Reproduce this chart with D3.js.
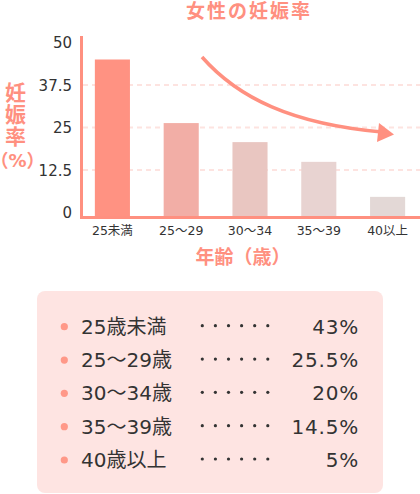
<!DOCTYPE html>
<html>
<head>
<meta charset="utf-8">
<script src="https://cdn.jsdelivr.net/npm/d3@7"></script>
<style>
  html, body { margin: 0; padding: 0; background: #fff; }
  svg { display: block; }
  text { font-family: "DejaVu Sans", "Noto Sans CJK JP", sans-serif; }
  .halt { font-feature-settings: "halt" 1; }
</style>
</head>
<body>
<div id="chart"></div>
<script>
// data
const ageGroups = ["25未満", "25〜29", "30〜34", "35〜39", "40以上"];
const barRates = [45, 26.3, 20.7, 14.9, 4.6];
const yTicks = [0, 12.5, 25, 37.5, 50];
const gridTicks = [12.5, 25, 37.5];
const listLabels = ["25歳未満", "25〜29歳", "30〜34歳", "35〜39歳", "40歳以上"];
const listValues = ["43%", "25.5%", "20%", "14.5%", "5%"];
const barColors = ["#ff9282", "#f2aea6", "#e9c6c1", "#e8d3d1", "#e3d8d6"];

const W = 420, H = 494;
const salmon = "#ff9080";
const ink = "#333";

const svg = d3.select("#chart").append("svg")
  .attr("width", W)
  .attr("height", H);

const x = d3.scaleBand()
  .domain(ageGroups)
  .range([78, 422])
  .paddingInner(0.49)
  .paddingOuter(0.245);

const y = d3.scaleLinear()
  .domain([0, 50])
  .range([212.5, 42.5]);

const baseY = 217.5;

// title
svg.append("text")
  .attr("x", 249)
  .attr("y", 11)
  .attr("text-anchor", "middle")
  .attr("dominant-baseline", "central")
  .attr("font-size", 19)
  .attr("font-weight", "bold")
  .attr("letter-spacing", 2)
  .attr("fill", salmon)
  .text("女性の妊娠率");

// grid
svg.append("g")
  .selectAll("line")
  .data(gridTicks)
  .join("line")
  .attr("x1", 83)
  .attr("x2", W)
  .attr("y1", (d) => y(d))
  .attr("y2", (d) => y(d))
  .attr("stroke", "#fde3e0")
  .attr("stroke-width", 2)
  .attr("stroke-dasharray", "5,4");

// bars
svg.append("g")
  .selectAll("rect")
  .data(ageGroups)
  .join("rect")
  .attr("x", (d) => x(d))
  .attr("width", x.bandwidth())
  .attr("y", (d, i) => y(barRates[i]))
  .attr("height", (d, i) => baseY - y(barRates[i]))
  .attr("fill", (d, i) => barColors[i]);

// y axis
const yAxis = d3.axisLeft(y)
  .tickValues(yTicks)
  .tickSize(0)
  .tickPadding(0)
  .tickFormat((d) => d);

const ya = svg.append("g")
  .attr("transform", "translate(72,0)")
  .call(yAxis);
ya.select(".domain").remove();
ya.selectAll("text")
  .attr("font-size", 15)
  .attr("fill", ink)
  .attr("font-family", null)
  .attr("dy", "0.36em");

// x axis labels
const xAxis = d3.axisBottom(x).tickSize(0).tickPadding(0);
const xa = svg.append("g")
  .attr("transform", "translate(0,230.5)")
  .call(xAxis);
xa.select(".domain").remove();
xa.selectAll("text")
  .attr("font-size", 12.5)
  .attr("fill", ink)
  .attr("font-family", null)
  .attr("dy", "0.36em");

// axis lines
svg.append("line")
  .attr("x1", 81.5).attr("x2", 81.5)
  .attr("y1", 36).attr("y2", baseY + 1.5)
  .attr("stroke", salmon)
  .attr("stroke-width", 3);
svg.append("line")
  .attr("x1", 80).attr("x2", W)
  .attr("y1", baseY).attr("y2", baseY)
  .attr("stroke", salmon)
  .attr("stroke-width", 3);

// y axis title
const yTitle = ["妊", "娠", "率"];
svg.append("g")
  .selectAll("text")
  .data(yTitle)
  .join("text")
  .attr("x", 15.5)
  .attr("y", (d, i) => 93 + i * 22)
  .attr("text-anchor", "middle")
  .attr("dominant-baseline", "central")
  .attr("font-size", 21)
  .attr("font-weight", "bold")
  .attr("fill", salmon)
  .attr("font-family", "'Noto Sans CJK JP', sans-serif")
  .text((d) => d);
svg.append("text")
  .attr("class", "halt")
  .attr("x", 17.5)
  .attr("y", 160)
  .attr("text-anchor", "middle")
  .attr("dominant-baseline", "central")
  .attr("font-size", 18)
  .attr("font-weight", "bold")
  .attr("fill", salmon)
  .attr("font-family", "'Noto Sans CJK JP', sans-serif")
  .text("（%）");

// x axis title
svg.append("text")
  .attr("x", 243)
  .attr("y", 257)
  .attr("text-anchor", "middle")
  .attr("dominant-baseline", "central")
  .attr("font-size", 19)
  .attr("font-weight", "bold")
  .attr("fill", salmon)
  .attr("font-family", "'Noto Sans CJK JP', sans-serif")
  .text("年齢（歳）");

// decreasing trend arrow
svg.append("path")
  .attr("d", "M202,57 C238,98 292,124 382,132")
  .attr("fill", "none")
  .attr("stroke", salmon)
  .attr("stroke-width", 3.5);
svg.append("path")
  .attr("d", "M379,123 L394,134.5 L377,142 Z")
  .attr("fill", salmon);

// summary box
svg.append("rect")
  .attr("x", 37)
  .attr("y", 291)
  .attr("width", 346)
  .attr("height", 202)
  .attr("rx", 8)
  .attr("fill", "#fee4e2");

const rowY = d3.scalePoint()
  .domain(listLabels)
  .range([326.7, 460]);

const rows = svg.append("g")
  .selectAll("g")
  .data(listLabels)
  .join("g")
  .attr("transform", (d) => `translate(0,${rowY(d)})`);

rows.append("circle")
  .attr("cx", 64.3)
  .attr("r", 3.6)
  .attr("fill", "#ff9888");

rows.append("text")
  .attr("x", 81)
  .attr("dominant-baseline", "central")
  .attr("font-size", 20)
  .attr("fill", ink)
  .text((d) => d);

const dotX = d3.range(6);
rows.selectAll("circle.dot")
  .data(dotX)
  .join("circle")
  .attr("class", "dot")
  .attr("cx", (d) => 202.3 + d * 13.1)
  .attr("cy", -1)
  .attr("r", 1.6)
  .attr("fill", ink);

rows.append("text")
  .attr("x", 359)
  .attr("text-anchor", "end")
  .attr("dominant-baseline", "central")
  .attr("font-size", 20)
  .attr("letter-spacing", 0.8)
  .attr("fill", ink)
  .text((d, i) => listValues[i]);
</script>
</body>
</html>
